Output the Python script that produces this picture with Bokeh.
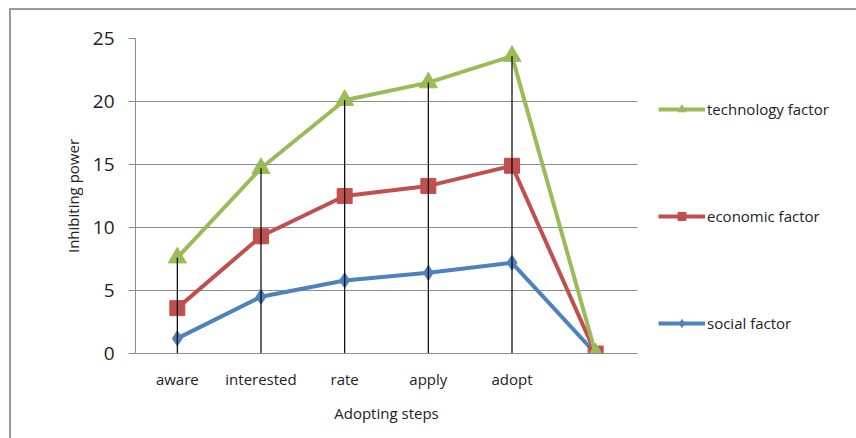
from bokeh.plotting import figure
from bokeh.layouts import column
from bokeh.models import Legend, LegendItem, FixedTicker, Range1d
from bokeh.embed import file_html
from bokeh.resources import INLINE

steps = ["aware", "interested", "rate", "apply", "adopt", " "]
technology = [7.6, 14.7, 20.1, 21.5, 23.6, 0]
economic = [3.6, 9.3, 12.5, 13.3, 14.9, 0]
social = [1.2, 4.5, 5.8, 6.4, 7.2, 0]
y_ticks = [0, 5, 10, 15, 20, 25]

GREEN = "#9BBB59"
RED = "#C0504D"
BLUE = "#4F81BD"
FONT = "Open Sans"

p = figure(x_range=steps, y_range=Range1d(0, 25),
           frame_width=502, frame_height=315,
           output_backend="svg", toolbar_location=None,
           min_border_left=124, min_border_right=219, min_border_top=28,
           min_border_bottom=85)
p.outline_line_color = None
p.xgrid.grid_line_color = None
p.ygrid.grid_line_color = "#8c8c8c"
p.ygrid.grid_line_width = 1
p.yaxis.ticker = FixedTicker(ticks=y_ticks)

p.yaxis.axis_line_color = "#8c8c8c"
p.yaxis.major_tick_line_color = "#8c8c8c"
p.yaxis.major_tick_out = 7
p.yaxis.major_tick_in = 0
p.yaxis.minor_tick_line_color = None
p.yaxis.major_label_text_font = FONT
p.yaxis.major_label_text_font_size = "19px"
p.yaxis.major_label_text_color = "#222222"
p.yaxis.major_label_standoff = 14
p.yaxis.axis_label = "Inhibiting power"
p.yaxis.axis_label_text_font = FONT
p.yaxis.axis_label_text_font_size = "15px"
p.yaxis.axis_label_text_font_style = "normal"
p.yaxis.axis_label_text_color = "#222222"
p.yaxis.axis_label_standoff = 7

p.xaxis.axis_line_color = "#8c8c8c"
p.xaxis.major_tick_line_color = None
p.xaxis.minor_tick_line_color = None
p.xaxis.major_label_text_font = FONT
p.xaxis.major_label_text_font_size = "15px"
p.xaxis.major_label_text_color = "#222222"
p.xaxis.major_label_standoff = 9
p.xaxis.axis_label = "Adopting steps"
p.xaxis.axis_label_text_font = FONT
p.xaxis.axis_label_text_font_size = "15px"
p.xaxis.axis_label_text_font_style = "normal"
p.xaxis.axis_label_text_color = "#222222"
p.xaxis.axis_label_standoff = 11

l_s = p.line(steps, social, line_color=BLUE, line_width=4)
m_s = p.scatter(steps, social, marker="diamond", size=15, color=BLUE)
l_e = p.line(steps, economic, line_color=RED, line_width=4)
m_e = p.scatter(steps, economic, marker="square", size=15, color=RED)
l_t = p.line(steps, technology, line_color=GREEN, line_width=4)
m_t = p.scatter(steps, technology, marker="triangle", size=18, color=GREEN)

p.segment(x0=steps[:5], y0=[0] * 5, x1=steps[:5], y1=technology[:5],
          line_color="#000000", line_width=1.2)

legend = Legend(items=[
    LegendItem(label="technology factor", renderers=[l_t, m_t]),
    LegendItem(label="economic factor", renderers=[l_e, m_e]),
    LegendItem(label="social factor", renderers=[l_s, m_s]),
], location=(21, 20), orientation="vertical")
legend.border_line_color = None
legend.background_fill_alpha = 0
legend.padding = 0
legend.margin = 0
legend.glyph_width = 47
legend.glyph_height = 20
legend.label_height = 20
legend.spacing = 87
legend.label_standoff = 2
legend.label_text_font = FONT
legend.label_text_font_size = "15px"
legend.label_text_color = "#222222"
p.add_layout(legend, "right")

lay = column(p, styles={"border-style": "solid", "border-color": "#9a9a9a",
                        "border-width": "2px 0px 0px 2px",
                        "margin-left": "9px", "margin-top": "8px"})

open("out.html", "w").write(file_html(lay, INLINE))
